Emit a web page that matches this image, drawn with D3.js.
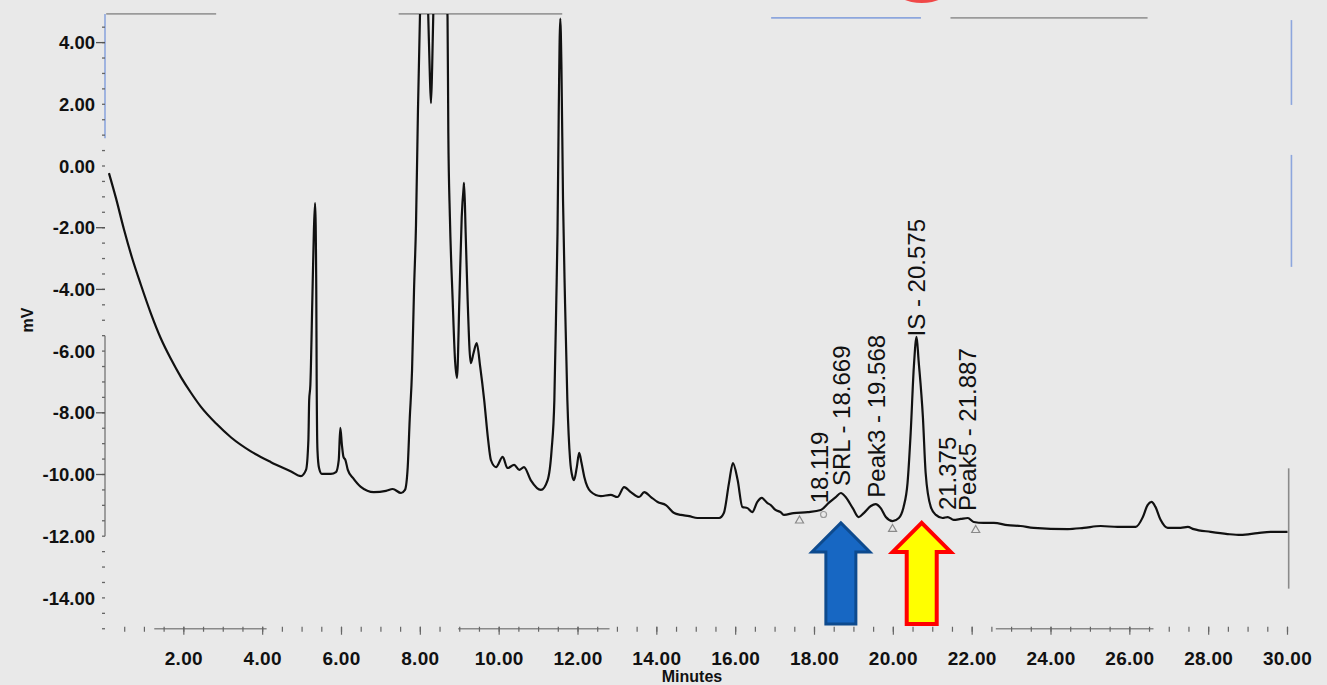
<!DOCTYPE html>
<html>
<head>
<meta charset="utf-8">
<script src="https://cdn.jsdelivr.net/npm/d3@7"></script>
<style>
  html, body { margin: 0; padding: 0; background: #e9e9e9; }
  svg { display: block; }
</style>
</head>
<body>
<script>
// chromatogram trace: retention time (min) and signal (mV)
const rtMin = [
  0.10, 0.28, 0.48, 0.68, 0.91, 1.17, 1.42, 1.67, 1.93, 2.18, 2.43, 2.82, 3.20, 3.70, 4.21, 4.72, 4.97,
  5.10, 5.16, 5.18, 5.21, 5.26, 5.30, 5.33, 5.36, 5.37, 5.39, 5.43, 5.50, 5.73, 5.86, 5.93, 5.97, 6.01,
  6.05, 6.10, 6.16, 6.29, 6.49, 6.82, 7.13, 7.30, 7.51, 7.61, 7.68, 7.73, 7.79, 7.84, 7.89, 7.94, 7.99,
  8.06, 8.14, 8.20, 8.24, 8.27, 8.30, 8.33, 8.45, 8.60, 8.69, 8.71, 8.75, 8.82, 8.88, 8.93,
  8.99, 9.05, 9.10, 9.11, 9.15, 9.20, 9.28, 9.35, 9.43, 9.52, 9.62, 9.72, 9.79, 9.92, 10.09, 10.21,
  10.38, 10.51, 10.63, 10.80, 11.06, 11.23, 11.33, 11.40, 11.45, 11.48, 11.51, 11.55, 11.58, 11.62,
  11.67, 11.73, 11.80, 11.86, 11.90, 11.97, 12.03, 12.09, 12.16, 12.32, 12.58, 12.83, 13.00, 13.17,
  13.34, 13.55, 13.68, 13.85, 14.02, 14.23, 14.44, 14.61, 14.82, 15.03, 15.28, 15.58, 15.70, 15.83,
  15.93, 16.05, 16.17, 16.30, 16.42, 16.55, 16.66, 16.80, 16.89, 17.01, 17.14, 17.23, 17.47, 17.83,
  18.16, 18.36, 18.54, 18.67, 18.79, 18.97, 19.12, 19.25, 19.43, 19.55, 19.68, 19.81, 19.98, 20.14,
  20.26, 20.36, 20.44, 20.52, 20.59, 20.64, 20.75, 20.82, 20.95, 21.08, 21.25, 21.38, 21.53, 21.71,
  21.89, 22.04, 22.29, 22.55, 22.90, 23.23, 23.56, 24.42, 24.83, 25.26, 25.69, 26.15, 26.33, 26.45,
  26.55, 26.65, 26.78, 26.96, 27.29, 27.47, 27.62, 28.05, 28.48, 28.81, 29.24, 29.57, 30.00
];
const signalMv = [
  -0.23, -1.05, -2.05, -2.95, -3.85, -4.80, -5.60, -6.25, -6.85, -7.35, -7.80, -8.35, -8.80, -9.25, -9.60, -9.90, -10.05,
  -9.85, -8.88, -7.59, -7.10, -4.34, -2.07, -1.20, -4.02, -6.94, -9.21, -9.79, -9.98, -9.98, -9.92, -9.53, -8.49, -9.04,
  -9.43, -9.53, -9.85, -10.11, -10.40, -10.57, -10.53, -10.47, -10.60, -10.50, -9.76, -8.23, -6.61, -4.02, -1.91, 1.82, 4.83,
  7.0, 6.5, 4.9, 3.0, 2.04, 3.2, 5.0, 7.5, 7.0, 4.83, 1.07, -1.65, -4.34, -6.29, -6.87,
  -4.34, -1.65, -0.68, -0.55, -2.17, -4.34, -6.39, -6.06, -5.74, -6.52, -7.59, -8.88, -9.53, -9.76, -9.43, -9.79,
  -9.69, -9.85, -9.76, -10.18, -10.50, -10.18, -9.21, -7.59, -4.34, -2.17, 1.59, 4.78, 3.21, -1.10,
  -4.34, -7.59, -9.53, -10.08, -10.18, -9.76, -9.30, -9.63, -10.08, -10.55, -10.70, -10.66, -10.73, -10.41,
  -10.57, -10.73, -10.57, -10.73, -10.89, -10.99, -11.25, -11.31, -11.35, -11.41, -11.41, -11.41, -11.25, -10.28,
  -9.63, -10.18, -11.05, -11.09, -11.22, -10.89, -10.76, -10.92, -10.99, -11.15, -11.22, -11.31, -11.25, -11.22,
  -11.15, -10.92, -10.73, -10.60, -10.73, -11.09, -11.38, -11.25, -11.02, -10.96, -11.09, -11.38, -11.51, -11.41,
  -11.05, -10.28, -8.65, -6.52, -5.54, -6.29, -8.14, -9.95, -11.05, -11.31, -11.41, -11.38, -11.47, -11.44,
  -11.41, -11.54, -11.57, -11.57, -11.64, -11.67, -11.73, -11.77, -11.73, -11.67, -11.70, -11.70, -11.38, -10.99,
  -10.89, -11.05, -11.47, -11.73, -11.73, -11.70, -11.77, -11.86, -11.93, -11.96, -11.90, -11.86, -11.86
];

const yTicks = [4, 2, 0, -2, -4, -6, -8, -10, -12, -14];
const yDashTicks = [4, -2, -4, -8, -10];   // the ones drawn with a dash in the picture
const xTicks = [2, 4, 6, 8, 10, 12, 14, 16, 18, 20, 22, 24, 26, 28, 30];

const peakNames = ["18.119", "SRL - 18.669", "Peak3 - 19.568", "IS - 20.575", "21.375", "Peak5 - 21.887"];
const peakTimes = [18.119, 18.669, 19.568, 20.575, 21.375, 21.887];

const baselineTimes = [17.62, 19.98, 22.09]; // integration start/end triangles
const arrowTimes = [18.669, 20.72];          // blue = SRL, yellow = IS

const width = 1327, height = 685;
const yTop = 4.93, yBottom = -15;

const x = d3.scaleLinear().domain([0, 30]).range([105, 1287.5]);
const y = d3.scaleLinear().domain([0, -12]).range([166, 536.2]);

const svg = d3.select("body").append("svg")
    .attr("width", width)
    .attr("height", height)
    .attr("viewBox", [0, 0, width, height])
    .style("font-family", "'Liberation Sans', Arial, sans-serif");

svg.append("rect").attr("width", width).attr("height", height).attr("fill", "#e9e9e9");

// red blob peeking in at the top of the slide
svg.append("ellipse")
    .attr("cx", x(20.72)).attr("cy", -11)
    .attr("rx", 27).attr("ry", 14)
    .attr("fill", "#f04848");

// ---- frame pieces (the original frame is only partly drawn) ----
const frame = svg.append("g").attr("fill", "none").attr("stroke-width", 1.6);

const topPieces = [[0.03, 2.82, yTop, "#9a9a9a"], [7.45, 11.6, yTop, "#9a9a9a"], [16.9, 20.7, 4.80, "#8da6dd"], [21.45, 26.45, 4.80, "#9a9a9a"]];
topPieces.forEach(([a, b, v, c]) => {
    frame.append("line").attr("x1", x(a)).attr("x2", x(b)).attr("y1", y(v)).attr("y2", y(v)).attr("stroke", c);
});

const leftPieces = [[yTop, 0.9, "#8da6dd"], [-5.5, -12, "#8a8a8a"]];
leftPieces.forEach(([a, b, c]) => {
    frame.append("line").attr("x1", x(0)).attr("x2", x(0)).attr("y1", y(a)).attr("y2", y(b)).attr("stroke", c);
});

const bottomPieces = [[1.25, 4.1], [8.96, 12.8], [22.6, 26.6]];
bottomPieces.forEach(([a, b]) => {
    frame.append("line").attr("x1", x(a)).attr("x2", x(b)).attr("y1", y(yBottom)).attr("y2", y(yBottom)).attr("stroke", "#8a8a8a");
});

const rightPieces = [[30.1, 4.73, 1.98, "#8da6dd"], [30.1, 0.36, -3.27, "#8da6dd"], [30.03, -9.8, -13.7, "#8a8a8a"]];
rightPieces.forEach(([t, a, b, c]) => {
    frame.append("line").attr("x1", x(t)).attr("x2", x(t)).attr("y1", y(a)).attr("y2", y(b)).attr("stroke", c);
});

// ---- y axis ----
const minorY = d3.range(4.5, -15.01, -0.5);
svg.append("g").selectAll("line").data(minorY).join("line")
    .attr("x1", x(0) - 3).attr("x2", x(0))
    .attr("y1", d => y(d)).attr("y2", d => y(d))
    .attr("stroke", "#666").attr("stroke-width", 1.3);

svg.append("g").selectAll("line").data(yDashTicks).join("line")
    .attr("x1", x(0) - 9).attr("x2", x(0))
    .attr("y1", d => y(d)).attr("y2", d => y(d))
    .attr("stroke", "#555").attr("stroke-width", 1.3);

svg.append("g").selectAll("text").data(yTicks).join("text")
    .attr("x", x(0) - 10)
    .attr("y", d => y(d))
    .attr("dy", "0.36em")
    .attr("text-anchor", "end")
    .attr("font-size", 18.5)
    .attr("font-weight", "bold")
    .attr("fill", "#111")
    .text(d => d.toFixed(2));

svg.append("text")
    .attr("transform", `translate(33,320) rotate(-90)`)
    .attr("text-anchor", "middle")
    .attr("font-size", 16)
    .attr("font-weight", "bold")
    .attr("fill", "#111")
    .text("mV");

// ---- x axis ----
const minorX = d3.range(0.5, 30.01, 0.5);
svg.append("g").selectAll("line").data(minorX).join("line")
    .attr("x1", d => x(d)).attr("x2", d => x(d))
    .attr("y1", y(yBottom) - 2).attr("y2", y(yBottom) + 3)
    .attr("stroke", "#666").attr("stroke-width", 1.2);

svg.append("g").selectAll("line").data(xTicks).join("line")
    .attr("x1", d => x(d)).attr("x2", d => x(d))
    .attr("y1", y(yBottom) - 2).attr("y2", y(yBottom) + 6)
    .attr("stroke", "#666").attr("stroke-width", 1.2);

svg.append("g").selectAll("text").data(xTicks).join("text")
    .attr("x", d => x(d))
    .attr("y", 665)
    .attr("text-anchor", "middle")
    .attr("font-size", 19)
    .attr("font-weight", "bold")
    .attr("letter-spacing", 0.3)
    .attr("fill", "#111")
    .text(d => d.toFixed(2));

svg.append("text")
    .attr("x", 692).attr("y", 682)
    .attr("text-anchor", "middle")
    .attr("font-size", 16)
    .attr("font-weight", "bold")
    .attr("fill", "#111")
    .text("Minutes");

// ---- trace ----
svg.append("clipPath").attr("id", "plot-clip")
    .append("rect")
    .attr("x", 0).attr("y", y(yTop))
    .attr("width", width).attr("height", height - y(yTop));

const points = rtMin.map((t, i) => [t, signalMv[i]]);

const line = d3.line()
    .x(d => x(d[0]))
    .y(d => y(d[1]))
    .curve(d3.curveMonotoneX);

svg.append("path")
    .datum(points)
    .attr("clip-path", "url(#plot-clip)")
    .attr("fill", "none")
    .attr("stroke", "#111")
    .attr("stroke-width", 2.2)
    .attr("stroke-linejoin", "round")
    .attr("d", line);

// linear lookup of the trace at a time, used to sit labels/markers on it
const bis = d3.bisector(d => d).left;
function signalAt(t) {
    const i = Math.max(1, Math.min(rtMin.length - 1, bis(rtMin, t)));
    const t0 = rtMin[i - 1], t1 = rtMin[i];
    const k = (t - t0) / (t1 - t0);
    return signalMv[i - 1] + k * (signalMv[i] - signalMv[i - 1]);
}

// baseline markers
svg.append("g").selectAll("path").data(baselineTimes).join("path")
    .attr("transform", t => `translate(${x(t)},${y(signalAt(t)) + 8})`)
    .attr("d", d3.symbol(d3.symbolTriangle, 28))
    .attr("fill", "none")
    .attr("stroke", "#8a8a8a")
    .attr("stroke-width", 1.2);

svg.append("circle")
    .attr("cx", x(18.23)).attr("cy", y(signalAt(18.23)) + 7)
    .attr("r", 3)
    .attr("fill", "none").attr("stroke", "#9a9a9a").attr("stroke-width", 1.2);

// peak labels, rotated like the instrument report
svg.append("g").selectAll("text").data(peakTimes).join("text")
    .attr("transform", t => `translate(${x(t)},${y(signalAt(t)) - 7}) rotate(-90)`)
    .attr("dy", "0.36em")
    .attr("text-anchor", "start")
    .attr("font-size", 24)
    .attr("fill", "#111")
    .text((t, i) => peakNames[i]);

// ---- arrows ----
const arrowShape = [[0, 0], [29, 29], [15, 29], [15, 101], [-15, 101], [-15, 29], [-29, 29]];
const arrowStyles = [
    { fill: "#1767c3", stroke: "#0d4a8e", w: 3 },
    { fill: "#ffff00", stroke: "#ff0000", w: 4 }
];
svg.append("g").selectAll("path").data(arrowTimes).join("path")
    .attr("transform", t => `translate(${x(t)},${y(-11.57)})`)
    .attr("d", d3.line()(arrowShape) + "Z")
    .attr("fill", (t, i) => arrowStyles[i].fill)
    .attr("stroke", (t, i) => arrowStyles[i].stroke)
    .attr("stroke-width", (t, i) => arrowStyles[i].w)
    .attr("stroke-linejoin", "miter");
</script>
</body>
</html>
